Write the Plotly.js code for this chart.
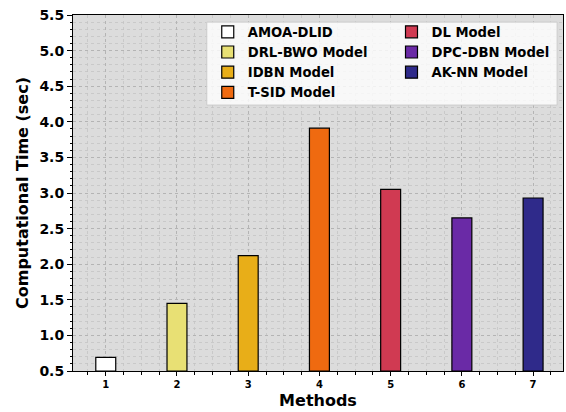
<!DOCTYPE html>
<html>
<head>
<meta charset="utf-8">
<script src="https://cdn.plot.ly/plotly-3.0.1.min.js"></script>
<style>html,body{margin:0;padding:0;background:#fff;}#chart{width:566px;height:412px;}</style>
</head>
<body>
<div id="chart"></div>
<script>
var methods = ["AMOA-DLID", "DRL-BWO Model", "IDBN Model", "T-SID Model", "DL Model", "DPC-DBN Model", "AK-NN Model"];
var positions = [1, 2, 3, 4, 5, 6, 7];
var compTime = [0.69, 1.45, 2.12, 3.91, 3.05, 2.65, 2.93];
var colors = ["#ffffff", "#e8e074", "#e8ae18", "#ef6a10", "#d03a52", "#6a2aa6", "#2f2a8a"];
var xTickLabels = ["1", "2", "3", "4", "5", "6", "7"];

var traces = methods.map(function (m, i) {
  return {
    type: "bar",
    name: m,
    x: [positions[i]],
    y: [compTime[i] - 0.5],
    base: 0.5,
    width: 0.28,
    marker: {color: colors[i], line: {color: "#000", width: 1.2}},
    legend: i < 4 ? "legend" : "legend2",
    hoverinfo: "x+y"
  };
});

var F = "DejaVu Sans, sans-serif";
var layout = {
  width: 566, height: 412,
  margin: {l: 73, r: 3, t: 15, b: 41},
  paper_bgcolor: "#ffffff",
  plot_bgcolor: "#dcdcdc",
  barmode: "overlay",
  showlegend: true,
  font: {family: F, color: "#000"},
  xaxis: {
    range: [0.54, 7.42],
    tickvals: positions, ticktext: xTickLabels,
    tickfont: {family: F, size: 10, weight: "bold"},
    ticks: "outside", ticklen: 4, tickwidth: 1, tickcolor: "#000",
    showline: true, linecolor: "#000", linewidth: 1, mirror: true,
    showgrid: true, gridcolor: "#b4b4b4", griddash: "dot", gridwidth: 1,
    zeroline: false,
    minor: {dtick: 0.25, tick0: 0, ticks: "outside", ticklen: 2.5, tickcolor: "#000", showgrid: true, gridcolor: "#c4c4c4", griddash: "dot", gridwidth: 0.8},
    title: {text: "Methods", font: {family: F, size: 16, weight: "bold"}, standoff: 5}
  },
  yaxis: {
    range: [0.5, 5.5],
    dtick: 0.5, tick0: 0.5, tickformat: ".1f",
    tickfont: {family: F, size: 14, weight: "bold"},
    ticks: "outside", ticklen: 5, tickwidth: 1, tickcolor: "#000",
    showline: true, linecolor: "#000", linewidth: 1, mirror: true,
    showgrid: true, gridcolor: "#b4b4b4", griddash: "dot", gridwidth: 1,
    zeroline: false,
    minor: {dtick: 0.1, tick0: 0.5, ticks: "outside", ticklen: 2.5, tickcolor: "#000", showgrid: true, gridcolor: "#c4c4c4", griddash: "dot", gridwidth: 0.8},
    title: {text: "Computational Time (sec)", font: {family: F, size: 16, weight: "bold"}, standoff: 6}
  },
  legend: {
    x: 0.275, y: 0.995, xanchor: "left", yanchor: "top",
    bgcolor: "rgba(0,0,0,0)", borderwidth: 0,
    font: {family: F, size: 13.2, weight: "bold"},
    tracegroupgap: 0, itemwidth: 30
  },
  legend2: {
    x: 0.65, y: 0.995, xanchor: "left", yanchor: "top",
    bgcolor: "rgba(0,0,0,0)", borderwidth: 0,
    font: {family: F, size: 13.2, weight: "bold"},
    tracegroupgap: 0, itemwidth: 30
  },
  shapes: [{
    type: "rect", xref: "paper", yref: "paper",
    x0: 0.273, x1: 0.988, y0: 0.747, y1: 0.980,
    fillcolor: "rgba(255,255,255,0.8)", line: {color: "#cccccc", width: 1}, layer: "above"
  }]
};

Plotly.newPlot("chart", traces, layout, {displayModeBar: false, staticPlot: true});
</script>
</body>
</html>
